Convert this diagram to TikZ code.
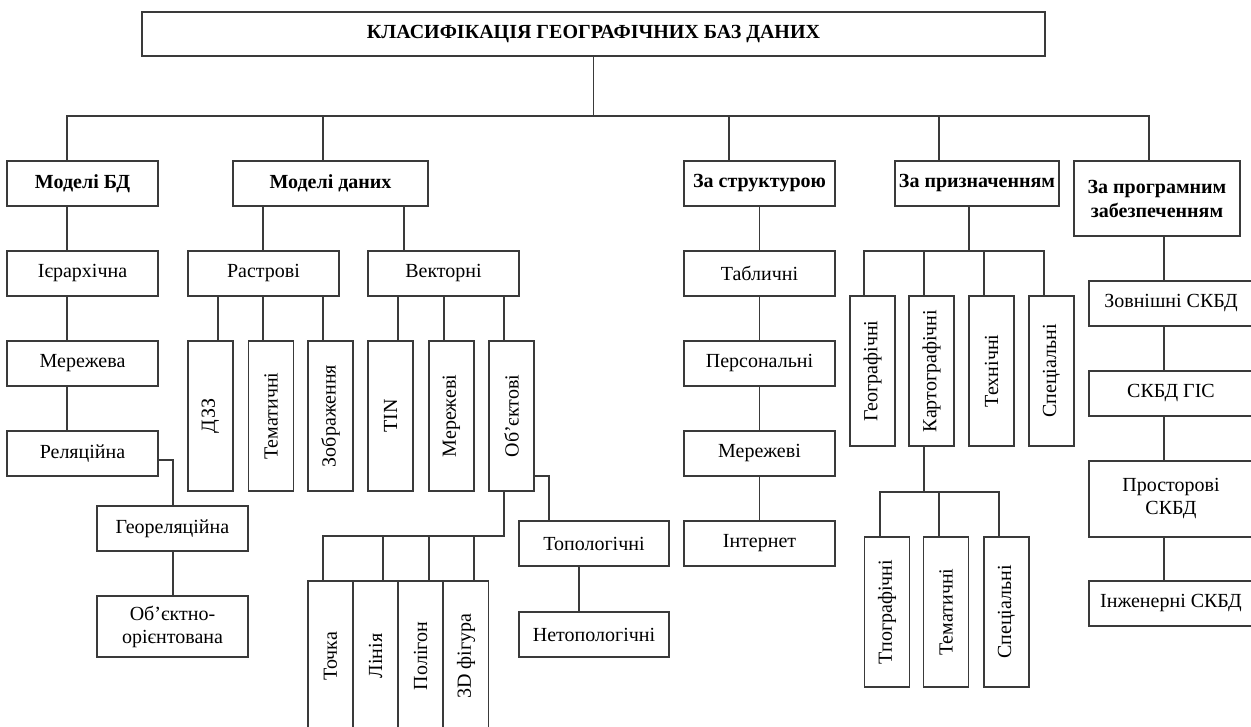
\documentclass[tikz,border=0pt]{standalone}
\usepackage{fontspec}
\setmainfont{Liberation Serif}
\definecolor{ln}{HTML}{3A3A3A}
\begin{document}
\begin{tikzpicture}[x=1pt,y=-1pt,
  box/.style={draw=ln, line width=1.3pt, inner sep=0pt, outer sep=0pt, minimum height=45pt,
    font=\fontsize{20}{23}\selectfont, align=center, fill=white},
  hbox/.style={box, font=\bfseries\fontsize{20}{24}\selectfont},
  vbox/.style={box, minimum width=45pt, minimum height=150pt},
  conn/.style={draw=ln, line width=1.3pt}]
\useasboundingbox (0,0) rectangle (1251,727);
\clip (0,0) rectangle (1251,727);
\fill[white] (0,0) rectangle (1251,727);

% title and level 1
\node[box, minimum width=903pt, minimum height=44pt, font=\bfseries\fontsize{20}{22}\selectfont] (title) at (593.5,34) {КЛАСИФІКАЦІЯ ГЕОГРАФІЧНИХ БАЗ ДАНИХ};
\node[hbox, minimum width=151pt] (mbd) at (82.5,183.5) {Моделі БД};
\node[hbox, minimum width=195pt] (mdan) at (330.5,183.5) {Моделі даних};
\node[hbox, minimum width=151pt] (zstr) at (759.5,183.5) {За структурою};
\node[hbox, minimum width=164pt] (zpr) at (977,183.5) {За призначенням};
\node[hbox, minimum width=166pt, minimum height=75pt] (zprog) at (1157,198.5) {За програмним\\забезпеченням};
\coordinate (bus) at (594,116);
\draw[conn] (title.south) -- (title.south |- bus);
\draw[conn] (mbd.north -| 67,0) -- (bus -| 67,0) -| (zprog.north -| 1149,0);
\draw[conn] (mdan.north -| 323,0) -- (bus -| 323,0);
\draw[conn] (zstr.north -| 729,0) -- (bus -| 729,0);
\draw[conn] (zpr.north -| 939,0) -- (bus -| 939,0);

% Моделі БД
\node[box, minimum width=151pt] (ier) at (82.5,273.5) {Ієрархічна};
\node[box, minimum width=151pt] (mer) at (82.5,363.5) {Мережева};
\node[box, minimum width=151pt] (rel) at (82.5,453.5) {Реляційна};
\node[box, minimum width=151pt] (georel) at (172.5,528.5) {Геореляційна};
\node[box, minimum width=151pt, minimum height=61pt] (objor) at (172.5,626.5) {Об’єктно-\\орієнтована};
\draw[conn] (mbd.south -| 67,0) -- (ier.north -| 67,0);
\draw[conn] (ier.south -| 67,0) -- (mer.north -| 67,0);
\draw[conn] (mer.south -| 67,0) -- (rel.north -| 67,0);
\draw[conn] (rel.east |- 0,460) -| (georel.north -| 173,0);
\draw[conn] (georel.south -| 173,0) -- (objor.north -| 173,0);

% Моделі даних
\node[box, minimum width=151pt] (ras) at (263.5,273.5) {Растрові};
\node[box, minimum width=151pt] (vec) at (443.5,273.5) {Векторні};
\draw[conn] (mdan.south -| 263,0) -- (ras.north -| 263,0);
\draw[conn] (mdan.south -| 404,0) -- (vec.north -| 404,0);
\node[vbox] (dzz) at (210.5,416) {\rotatebox{90}{ДЗЗ}};
\node[vbox] (tem) at (271,416) {\rotatebox{90}{Тематичні}};
\node[vbox] (zobr) at (330.5,416) {\rotatebox{90}{Зображення}};
\node[vbox] (tin) at (390.5,416) {\rotatebox{90}{TIN}};
\node[vbox] (merv) at (451.5,416) {\rotatebox{90}{Мережеві}};
\node[vbox] (obj) at (511.5,416) {\rotatebox{90}{Об’єктові}};
\draw[conn] (ras.south -| 218,0) -- (dzz.north -| 218,0);
\draw[conn] (ras.south -| 263,0) -- (tem.north -| 263,0);
\draw[conn] (ras.south -| 323,0) -- (zobr.north -| 323,0);
\draw[conn] (vec.south -| 398,0) -- (tin.north -| 398,0);
\draw[conn] (vec.south -| 444,0) -- (merv.north -| 444,0);
\draw[conn] (vec.south -| 504,0) -- (obj.north -| 504,0);

\node[box, minimum width=150pt] (top) at (594,543.5) {Топологічні};
\node[box, minimum width=150pt] (netop) at (594,634.5) {Нетопологічні};
\draw[conn] (obj.east |- 0,476) -| (top.north -| 549,0);
\draw[conn] (top.south -| 579,0) -- (netop.north -| 579,0);

\node[vbox] (tochka) at (330.5,656) {\rotatebox{90}{Точка}};
\node[vbox] (liniya) at (375.5,656) {\rotatebox{90}{Лінія}};
\node[vbox] (poligon) at (420.5,656) {\rotatebox{90}{Полігон}};
\node[vbox] (fig) at (466,656) {\rotatebox{90}{3D фігура}};
\coordinate (obus) at (504,536);
\draw[conn] (obj.south -| 504,0) -- (obus) -| (tochka.north -| 323,0);
\draw[conn] (liniya.north -| 383,0) -- (obus -| 383,0);
\draw[conn] (poligon.north -| 429,0) -- (obus -| 429,0);
\draw[conn] (fig.north -| 474,0) -- (obus -| 474,0);

% За структурою
\node[box, minimum width=151pt] (tab) at (759.5,273.5) {Табличні};
\node[box, minimum width=151pt] (pers) at (759.5,363.5) {Персональні};
\node[box, minimum width=151pt] (mrzv) at (759.5,453.5) {Мережеві};
\node[box, minimum width=151pt] (inet) at (759.5,543.5) {Інтернет};
\draw[conn] (zstr.south) -- (tab.north);
\draw[conn] (tab.south) -- (pers.north);
\draw[conn] (pers.south) -- (mrzv.north);
\draw[conn] (mrzv.south) -- (inet.north);

% За призначенням
\node[vbox] (geo) at (872.5,371) {\rotatebox{90}{Географічні}};
\node[vbox] (kart) at (931.5,371) {\rotatebox{90}{Картографічні}};
\node[vbox] (tech) at (991.5,371) {\rotatebox{90}{Технічні}};
\node[vbox] (spec) at (1051.5,371) {\rotatebox{90}{Спеціальні}};
\coordinate (pbus) at (969,251);
\draw[conn] (zpr.south -| 969,0) -- (pbus);
\draw[conn] (geo.north -| 864,0) -- (pbus -| 864,0) -| (spec.north -| 1044,0);
\draw[conn] (kart.north -| 924,0) -- (pbus -| 924,0);
\draw[conn] (tech.north -| 984,0) -- (pbus -| 984,0);

\node[vbox] (topo) at (887,612) {\rotatebox{90}{Тпографічні}};
\node[vbox] (temat) at (946,612) {\rotatebox{90}{Тематичні}};
\node[vbox] (spec2) at (1006.5,612) {\rotatebox{90}{Спеціальні}};
\coordinate (kbus) at (924,492);
\draw[conn] (kart.south -| 924,0) -- (kbus);
\draw[conn] (topo.north -| 880,0) -- (kbus -| 880,0) -| (spec2.north -| 999,0);
\draw[conn] (temat.north -| 939,0) -- (kbus -| 939,0);

% За програмним забезпеченням
\node[box, minimum width=164pt] (zovn) at (1171,303.5) {Зовнішні СКБД};
\node[box, minimum width=164pt] (gis) at (1171,393.5) {СКБД ГІС};
\node[box, minimum width=164pt, minimum height=76pt] (pros) at (1171,499) {Просторові\\СКБД};
\node[box, minimum width=164pt] (inzh) at (1171,603.5) {Інженерні СКБД};
\draw[conn] (zprog.south -| 1164,0) -- (zovn.north -| 1164,0);
\draw[conn] (zovn.south -| 1164,0) -- (gis.north -| 1164,0);
\draw[conn] (gis.south -| 1164,0) -- (pros.north -| 1164,0);
\draw[conn] (pros.south -| 1164,0) -- (inzh.north -| 1164,0);
\end{tikzpicture}
\end{document}
